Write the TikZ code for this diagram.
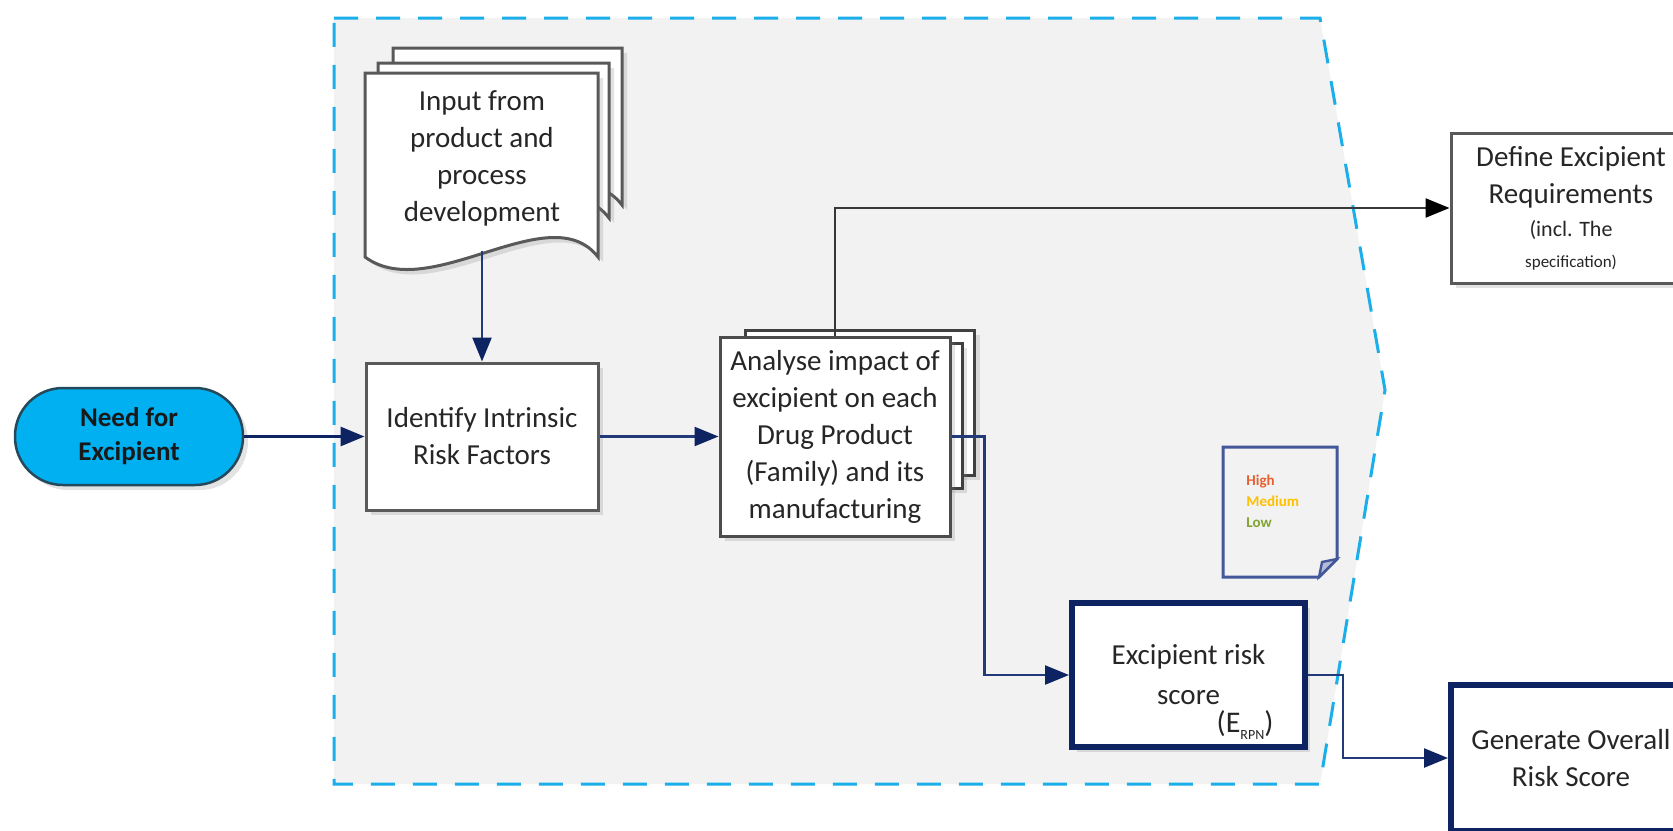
\documentclass[tikz,border=0pt]{standalone}
\usepackage{fontspec}
\setmainfont{Carlito}
\usetikzlibrary{arrows.meta,shadows}
\definecolor{regionblue}{HTML}{1AAEEA}
\definecolor{regionfill}{HTML}{F2F2F2}
\definecolor{navy}{HTML}{0E2462}
\definecolor{linknavy}{HTML}{22397A}
\definecolor{boxgray}{HTML}{595959}
\definecolor{termcyan}{HTML}{00B0F0}
\definecolor{termedge}{HTML}{23495A}
\definecolor{notenavy}{HTML}{44579A}
\definecolor{hi}{HTML}{E8602F}
\definecolor{med}{HTML}{FFC000}
\definecolor{lo}{HTML}{82A532}

\begin{document}
\begin{tikzpicture}[x=0.5pt,y=-0.5pt,
  txt/.style={font=\fontsize{14.5}{18.5}\selectfont, align=center, text=black!85},
  shade/.style={drop shadow={opacity=0.22, shadow xshift=2.5pt, shadow yshift=-2.5pt}},
  procbox/.style={draw=boxgray, line width=1.5pt, fill=white, inner sep=0pt, txt},
  keybox/.style={draw=navy, line width=3pt, fill=white, inner sep=0pt, txt},
  docpage/.style={draw=boxgray, line width=1.5pt, fill=white, shade},
  link/.style={draw=linknavy, line width=1.2pt, -{Triangle[length=12pt,width=9.5pt,color=navy]}},
  graylink/.style={draw=black!78, line width=1.2pt, -{Triangle[length=12pt,width=9.5pt,color=black]}},
]
\useasboundingbox (0,0) rectangle (1673,830);
\clip (0,0) rectangle (1673,830);

% dashed process region
\draw[regionblue, line width=1.5pt, dash pattern=on 12pt off 9pt, fill=regionfill]
  (334,18) -- (1320,18) -- (1385,390) -- (1320,784) -- (334,784) -- cycle;

% stacked input documents
\draw[docpage] (393,48) -- (622,48) -- (622,205)
  .. controls (575,143) and (455,253) .. (393,205) -- cycle;
\draw[docpage] (378,63) -- (609,63) -- (609,218)
  .. controls (562,156) and (442,266) .. (378,218) -- cycle;
\draw[docpage] (365,73) -- (598,73) -- (598,257)
  .. controls (550,195) and (430,305) .. (365,257) -- cycle;
\node[txt] (docin) at (482,158) {Input from\\product and\\process\\development};
\coordinate (docbot) at (482,251);

% start terminal
\node[draw=termedge, fill=termcyan, line width=1.25pt, rounded corners=24pt,
      minimum width=114pt, minimum height=48.5pt, inner sep=0pt, shade, align=center,
      font=\bfseries\fontsize{13.5}{17}\selectfont, text=black!90]
  (need) at (129,436.5) {Need for\\Excipient};

% process steps
\node[procbox, shade, minimum width=116pt, minimum height=73.5pt]
  (identify) at (482,436.5) {Identify Intrinsic\\Risk Factors};

\node[procbox, draw=black!75, shade, minimum width=114.5pt, minimum height=72.5pt] (an3) at (860,402.5) {};
\node[procbox, draw=black!75, shade, minimum width=114.5pt, minimum height=72.5pt] (an2) at (847.5,415.5) {};
\node[procbox, draw=black!70, shade, minimum width=115pt, minimum height=99.5pt]
  (analyse) at (835,436.5) {Analyse impact of\\excipient on each\\Drug Product\\(Family) and its\\manufacturing};

\node[procbox, shade, minimum width=120pt, minimum height=75pt]
  (define) at (1571,208) {Define Excipient\\Requirements\\[-2pt]{\fontsize{11}{14}\selectfont (incl. The}\\[-3pt]{\fontsize{8.5}{11}\selectfont specification)}};

\node[keybox, shade, minimum width=116.5pt, minimum height=72pt]
  (excip) at (1188.5,675) {Excipient risk\\[1.5pt]score};
\node[font=\fontsize{15}{17}\selectfont, text=black!85, inner sep=0pt]
  (rpn) at (1245,725) {(E\raisebox{-0.45ex}{\fontsize{7}{8}\selectfont RPN})};

\node[keybox, shade, minimum width=120pt, minimum height=73pt]
  (generate) at (1571,758) {Generate Overall\\Risk Score};

% rating note with folded corner
\draw[notenavy, line width=1.5pt, fill=regionfill]
  (1223,447) -- (1337,447) -- (1337,559) -- (1319,577) -- (1223,577) -- cycle;
\draw[notenavy, line width=1.2pt, fill=notenavy!40] (1337,559) -- (1322,562) -- (1319,577) -- cycle;
\node[anchor=west, align=left, inner sep=0pt, font=\bfseries\fontsize{7.5}{10.5}\selectfont]
  (rating) at (1246,501) {\textcolor{hi}{High}\\\textcolor{med}{Medium}\\\textcolor{lo}{Low}};

% connectors
\draw[link, line width=1.5pt, draw=navy] (need.east) -- (identify.west);
\draw[link] (docbot) -- (identify.north);
\draw[link] (identify) -- (analyse);
\draw[graylink] (analyse.north) |- (define.west);
\draw[link] (analyse.east) -- ++(33,0) |- (excip.west);
\draw[link] (excip.east) -- ++(35,0) |- (generate.west);
\end{tikzpicture}
\end{document}
